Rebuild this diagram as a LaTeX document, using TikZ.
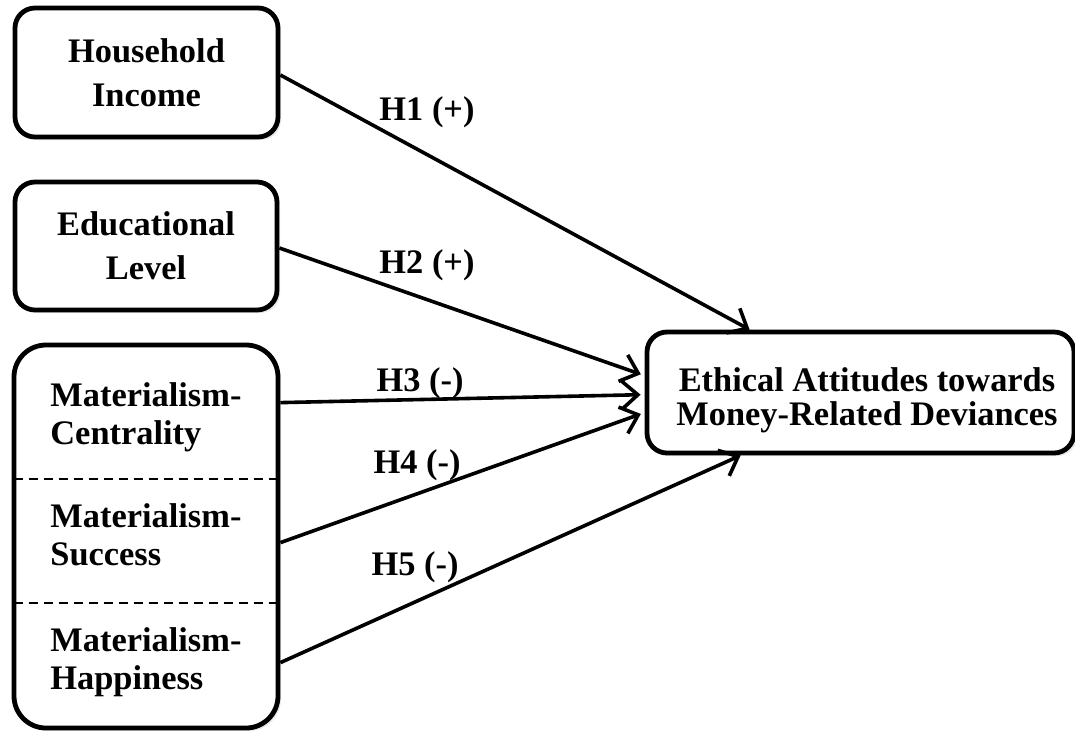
\documentclass[tikz,border=0pt]{standalone}
\usepackage{fontspec}
\setmainfont{Liberation Serif}
\usetikzlibrary{arrows.meta,calc,shadows}
\begin{document}
\begin{tikzpicture}[x=0.5pt,y=-0.5pt,
  box/.style={draw=black,line width=2.4pt,fill=white,rounded corners=10pt,inner sep=0pt,
    drop shadow={opacity=0.18,shadow xshift=1.5pt,shadow yshift=-1.5pt}},
  boxtxt/.style={font=\fontsize{17.2}{22}\selectfont\bfseries,align=center},
  mattxt/.style={font=\fontsize{17.2}{19}\selectfont\bfseries,align=left,inner sep=0pt,anchor=base west},
  dvtxt/.style={font=\fontsize{17.2}{17}\selectfont\bfseries,align=center,inner sep=0pt,anchor=base},
  lbl/.style={font=\fontsize{17.2}{20}\selectfont\bfseries,inner sep=0pt},
  link/.style={line width=1.8pt,-{Straight Barb[length=8pt,width=14pt,line width=1.8pt]}},
  sep/.style={line width=0.9pt,dash pattern=on 4.5pt off 3pt}
]
\useasboundingbox (0,0) rectangle (1075,730);

% boxes
\node[box,boxtxt,minimum width=131.5pt,minimum height=64.5pt] (inc) at (146.5,72.5) {Household\\Income};
\node[box,boxtxt,minimum width=131pt,minimum height=64pt] (edu) at (146,246) {Educational\\Level};
\node[box,rounded corners=16pt,minimum width=132pt,minimum height=191.5pt] (mat) at (146,536.5) {};
\node[box,minimum width=213.5pt,minimum height=60.5pt] (dv) at (860.5,392.5) {};

% texts inside materialism and dependent boxes
\node[mattxt] (m1) at (50,444) {Materialism-\\Centrality};
\node[mattxt] (m2) at (50,565) {Materialism-\\Success};
\node[mattxt] (m3) at (50,689) {Materialism-\\Happiness};
\node[dvtxt] (dvt) at (867,425) {Ethical Attitudes towards\\Money-Related Deviances};

% dashed separators
\draw[sep] ($(mat.north west)+(2,136)$) -- ($(mat.north east)+(-4,136)$);
\draw[sep] ($(mat.north west)+(2,260)$) -- ($(mat.north east)+(-4,260)$);

% connectors
\draw[link] ($(inc.east)+(0,2.5)$) -- ($(dv.north west)+(105,0)$);
\draw[link,shorten >=2pt] ($(edu.east)+(0,2)$) -- ($(dv.north west)+(0,46)$);
\draw[link,shorten >=2pt] ($(mat.north east)+(0,60)$) -- ($(dv.north west)+(0,65)$);
\draw[link,shorten >=2pt] ($(mat.north east)+(0,200)$) -- ($(dv.north west)+(0,83)$);
\draw[link] ($(mat.north east)+(0,320)$) -- ($(dv.south west)+(96,0)$);

% hypothesis labels
\node[lbl] (h1) at (427,112) {H1 (+)};
\node[lbl] (h2) at (427,265) {H2 (+)};
\node[lbl] (h3) at (420,383) {H3 (-)};
\node[lbl] (h4) at (417,465) {H4 (-)};
\node[lbl] (h5) at (415,567) {H5 (-)};
\end{tikzpicture}
\end{document}
